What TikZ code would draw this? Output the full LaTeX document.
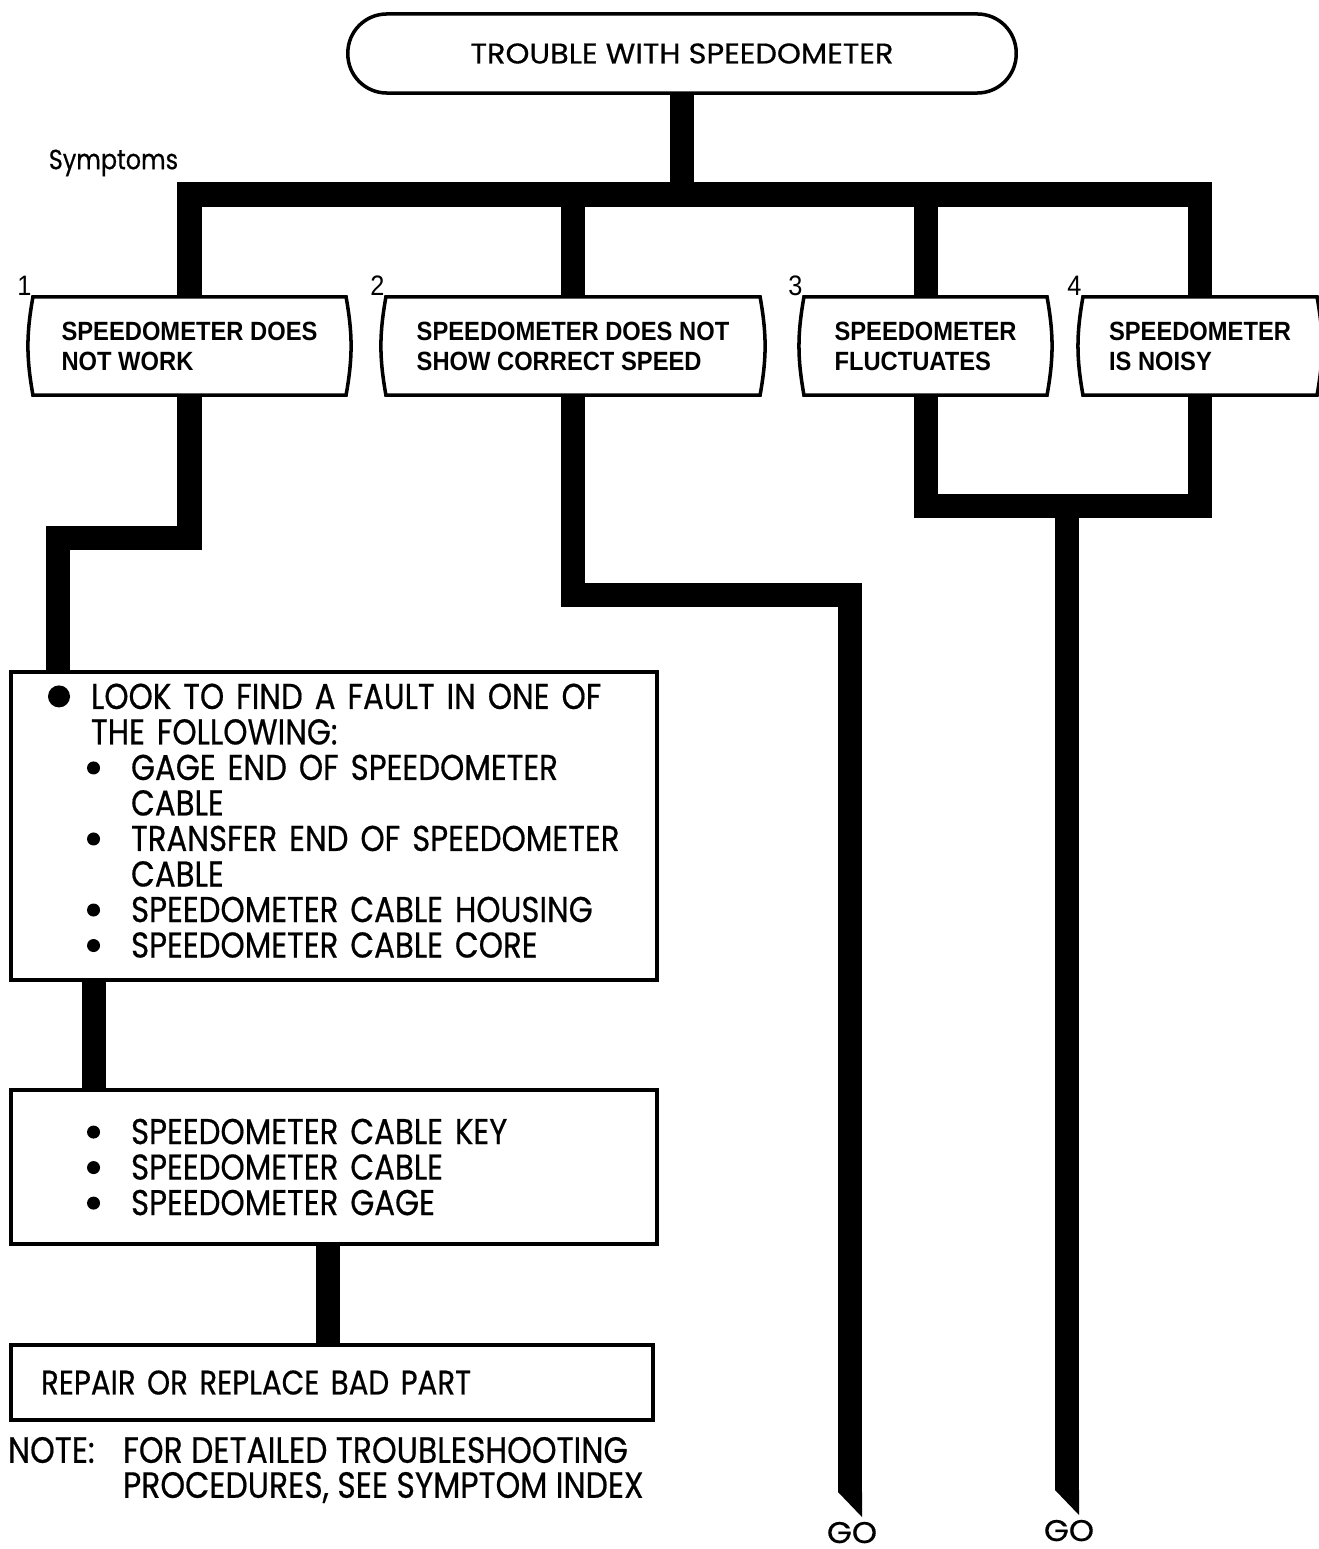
\documentclass[tikz,border=0pt]{standalone}
\usepackage{fontspec}
\setmainfont{Liberation Sans}
\newfontfamily\helv[FakeStretch=0.9]{Liberation Sans}
\newfontfamily\gothic[FakeStretch=0.86, FakeBold=0.5]{Poppins}
\newfontfamily\gothicwide[FakeStretch=1.07, FakeBold=0.5]{Poppins}
\newcommand{\bigdot}{\tikz[baseline=-0.125cm]\fill (0,0) circle (0.11cm);}
\newcommand{\smalldot}{\tikz[baseline=-0.12cm]\fill (0,0) circle (0.065cm);}

\begin{document}
\begin{tikzpicture}[x=0.01cm, y=-0.01cm, outer sep=0pt,
  conn/.style={line width=0.24cm},
  symbox/.style={minimum height=0.98cm, align=left, font=\helv\bfseries\fontsize{7.5}{8.54}\selectfont},
  listbox/.style={draw, line width=1.1pt, text width=6.46cm, inner sep=0pt, align=left, font=\gothic\fontsize{10.2}{10.1}\selectfont},
  num/.style={inner sep=0.4pt, font=\helv\fontsize{8}{9}\selectfont},
  gotext/.style={anchor=base, inner sep=0pt, font=\gothicwide\fontsize{8.5}{9}\selectfont}]
  \useasboundingbox (0,0) rectangle (1319,1549);
  % head of the chart
  \node[draw, line width=1pt, rounded corners=0.39cm, minimum width=6.68cm, minimum height=0.79cm,
        font=\gothicwide\fontsize{8.1}{9}\selectfont] (top) at (682,53.5) {TROUBLE WITH SPEEDOMETER};
  \node[font=\gothic\fontsize{7.9}{8}\selectfont] (sym) at (113.5,163) {Symptoms};
  % symptom row
  \node[symbox, minimum width=3.13cm, label={[num]north west:1}] (s1) at (189.5,346) {SPEEDOMETER DOES\\NOT WORK};
  \node[symbox, minimum width=3.74cm, label={[num]north west:2}] (s2) at (573,346) {SPEEDOMETER DOES NOT\\SHOW CORRECT SPEED};
  \node[symbox, minimum width=2.43cm, label={[num]north west:3}] (s3) at (925.5,346) {SPEEDOMETER\\FLUCTUATES};
  \node[symbox, minimum width=2.34cm, label={[num]north west:4}] (s4) at (1200,346) {SPEEDOMETER\\IS NOISY};
  % checks under symptom 1
  \node[listbox, minimum height=3.08cm, anchor=north west] (look) at (11,672) {%
    \hspace*{0.37cm}\bigdot\hspace*{0.21cm}LOOK TO FIND A FAULT IN ONE OF\\
    \hspace*{0.80cm}THE FOLLOWING:\\
    \hspace*{0.76cm}\smalldot\hspace*{0.31cm}GAGE END OF SPEEDOMETER\\
    \hspace*{1.20cm}CABLE\\
    \hspace*{0.76cm}\smalldot\hspace*{0.31cm}TRANSFER END OF SPEEDOMETER\\
    \hspace*{1.20cm}CABLE\\
    \hspace*{0.76cm}\smalldot\hspace*{0.31cm}SPEEDOMETER CABLE HOUSING\\
    \hspace*{0.76cm}\smalldot\hspace*{0.31cm}SPEEDOMETER CABLE CORE\rule[-0.11cm]{0pt}{0pt}};
  \node[listbox, minimum height=1.54cm, anchor=north west] (keys) at (11,1090) {%
    \hspace*{0.76cm}\smalldot\hspace*{0.31cm}SPEEDOMETER CABLE KEY\\
    \hspace*{0.76cm}\smalldot\hspace*{0.31cm}SPEEDOMETER CABLE\\
    \hspace*{0.76cm}\smalldot\hspace*{0.31cm}SPEEDOMETER GAGE};
  \node[listbox, text width=6.42cm, minimum height=0.75cm, anchor=north west,
        font=\gothic\fontsize{9.7}{10}\selectfont] (fix) at (11,1345) {%
    \hspace*{0.30cm}REPAIR OR REPLACE BAD PART};
  \node[anchor=west, inner sep=0pt, align=left, font=\gothic\fontsize{10.4}{9.96}\selectfont] (note) at (8,1470) {%
    \makebox[1.15cm][l]{NOTE:}FOR DETAILED TROUBLESHOOTING\\
    \hspace*{1.15cm}PROCEDURES, SEE SYMPTOM INDEX};
  % exits to the other charts
  \node[gotext] (go2) at (852,1543) {GO};
  \node[gotext] (go34) at (1069,1541) {GO};
  \coordinate (bar) at (682,194.5);
  \coordinate (j34) at (1067,505.5);
  \coordinate (cut2) at (850,1492);
  \coordinate (cut34) at (1067,1490);
  % the heavy connectors
  \draw[conn] (top.south) -- (bar);
  \draw[conn] (s1.north) |- (bar) -| (s4.north);
  \draw[conn] (s2.north) -- (s2.north |- bar);
  \draw[conn] (s3.north) -- (s3.north |- bar);
  \draw[conn] (s1.south) -- ++(0,142.5) -| ([xshift=0.47cm]look.north west);
  \draw[conn] ([xshift=0.83cm]look.south west) -- ([xshift=0.83cm]keys.north west);
  \draw[conn] ([xshift=3.17cm]keys.south west) -- ([xshift=3.17cm]fix.north west);
  \draw[conn] (s2.south) -- ++(0,200) -| (cut2);
  \draw[conn] (s3.south) -- ++(0,110.5) -| (s4.south);
  \draw[conn] (j34) -- (cut34);
  \foreach \c in {cut2,cut34}
    \fill ([xshift=-0.12cm]\c) -- ([xshift=0.12cm]\c) -- ([xshift=0.12cm,yshift=-0.25cm]\c) -- cycle;
  % bulged outlines of the symptom boxes
  \foreach \n in {s1,s2,s3,s4}
    \draw[line width=1pt] (\n.north west) -- (\n.north east) to[bend left=10] (\n.south east)
      -- (\n.south west) to[bend left=10] (\n.north west) -- cycle;
\end{tikzpicture}
\end{document}
